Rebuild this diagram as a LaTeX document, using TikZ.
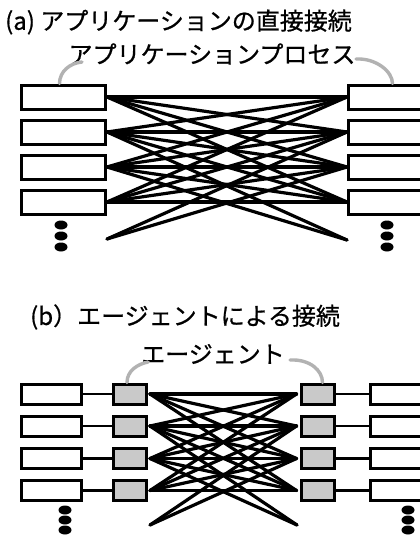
\documentclass[tikz,border=0pt]{standalone}
\usepackage{fontspec}
\setmainfont[FakeBold=0.7]{Noto Sans CJK JP}
\usetikzlibrary{shapes.geometric}
\begin{document}
\begin{tikzpicture}[x=1pt,y=-1pt,
  appbox/.style={draw, line width=3pt, fill=white, minimum width=84pt, minimum height=24pt, inner sep=0pt},
  smallapp/.style={draw, line width=3pt, fill=white, minimum width=60pt, minimum height=20pt, inner sep=0pt},
  agent/.style={draw, line width=3pt, fill=gray!42, minimum width=33pt, minimum height=20pt, inner sep=0pt},
  fan/.style={line width=3.2pt, line cap=round},
  link/.style={line width=2.2pt},
  leader/.style={draw=gray!60, line width=3.4pt, line cap=round},
  dot/.style={fill=black, ellipse, minimum width=13pt, minimum height=9pt, inner sep=0pt},
  lbl/.style={inner sep=0pt, font=\fontsize{24}{28}\selectfont},
]
\useasboundingbox (0,0) rectangle (420,538);
\fill[white] (0,0) rectangle (420,538);

% ---------- (a) ----------
\node[lbl, anchor=west] (ta) at (5,22) {(a) アプリケーションの直接接続};
\node[lbl] (pa) at (212,54) {アプリケーションプロセス};

\foreach \i/\y in {1/97,2/132,3/167,4/202}{
  \node[appbox] (aL\i) at (63.5,\y) {};
  \node[appbox] (aR\i) at (390.5,\y) {};
}
\coordinate (aL5) at (107,239);
\coordinate (aR5) at (347,240);

\foreach \i in {1,...,4}{
  \foreach \j in {1,...,4}{
    \draw[fan] (aL\i.east) -- (aR\j.west);
  }
}
\draw[fan] (aL5) -- (aR2.west);
\draw[fan] (aL5) -- (aR3.west);
\draw[fan] (aL2.east) -- (aR5);
\draw[fan] (aL3.east) -- (aR5);

\foreach \k/\y in {1/225,2/236,3/247}{
  \node[dot] (adL\k) at (61,\y) {};
  \node[dot] (adR\k) at (387,\y) {};
}

\coordinate (laA) at (82,62);
\coordinate (laB) at (356,59);
\draw[leader] ([xshift=-4pt]aL1.north) .. controls +(0,-12) and +(-12,1) .. (laA);
\draw[leader] (laB) .. controls +(20,-1) and +(0,-12) .. ([xshift=2pt]aR1.north);

% ---------- (b) ----------
\node[lbl, anchor=west] (tb) at (30,317) {(b）エージェントによる接続};
\node[lbl] (pb) at (213,354) {エージェント};

\foreach \i/\y in {1/394,2/426,3/458.5,4/490.5}{
  \node[smallapp] (bW\i) at (51,\y) {};
  \node[agent] (bG\i) at (130,\y) {};
  \node[agent] (bH\i) at (317.5,\y) {};
  \node[smallapp] (bV\i) at (400.5,\y) {};
  \draw[link] (bW\i.east) -- (bG\i.west);
  \draw[link] (bH\i.east) -- (bV\i.west);
}
\coordinate (bL5) at (150,525);
\coordinate (bR5) at (297,525);

\foreach \i in {1,...,4}{
  \foreach \j in {1,...,4}{
    \draw[fan] ([xshift=2pt]bG\i.east) -- ([xshift=-3pt]bH\j.west);
  }
}
\draw[fan] (bL5) -- ([xshift=-3pt]bH2.west);
\draw[fan] (bL5) -- ([xshift=-3pt]bH3.west);
\draw[fan] ([xshift=2pt]bG2.east) -- (bR5);
\draw[fan] ([xshift=2pt]bG3.east) -- (bR5);

\foreach \k/\y in {1/510,2/520,3/530}{
  \node[dot] (bdL\k) at (65,\y) {};
  \node[dot] (bdR\k) at (408,\y) {};
}

\coordinate (lbA) at (148,362);
\coordinate (lbB) at (290,360);
\draw[leader] ([xshift=-3pt]bG1.north) .. controls +(0,-12) and +(-10,2) .. (lbA);
\draw[leader] (lbB) .. controls +(20,-1) and +(0,-12) .. ([xshift=5pt]bH1.north);
\end{tikzpicture}
\end{document}
